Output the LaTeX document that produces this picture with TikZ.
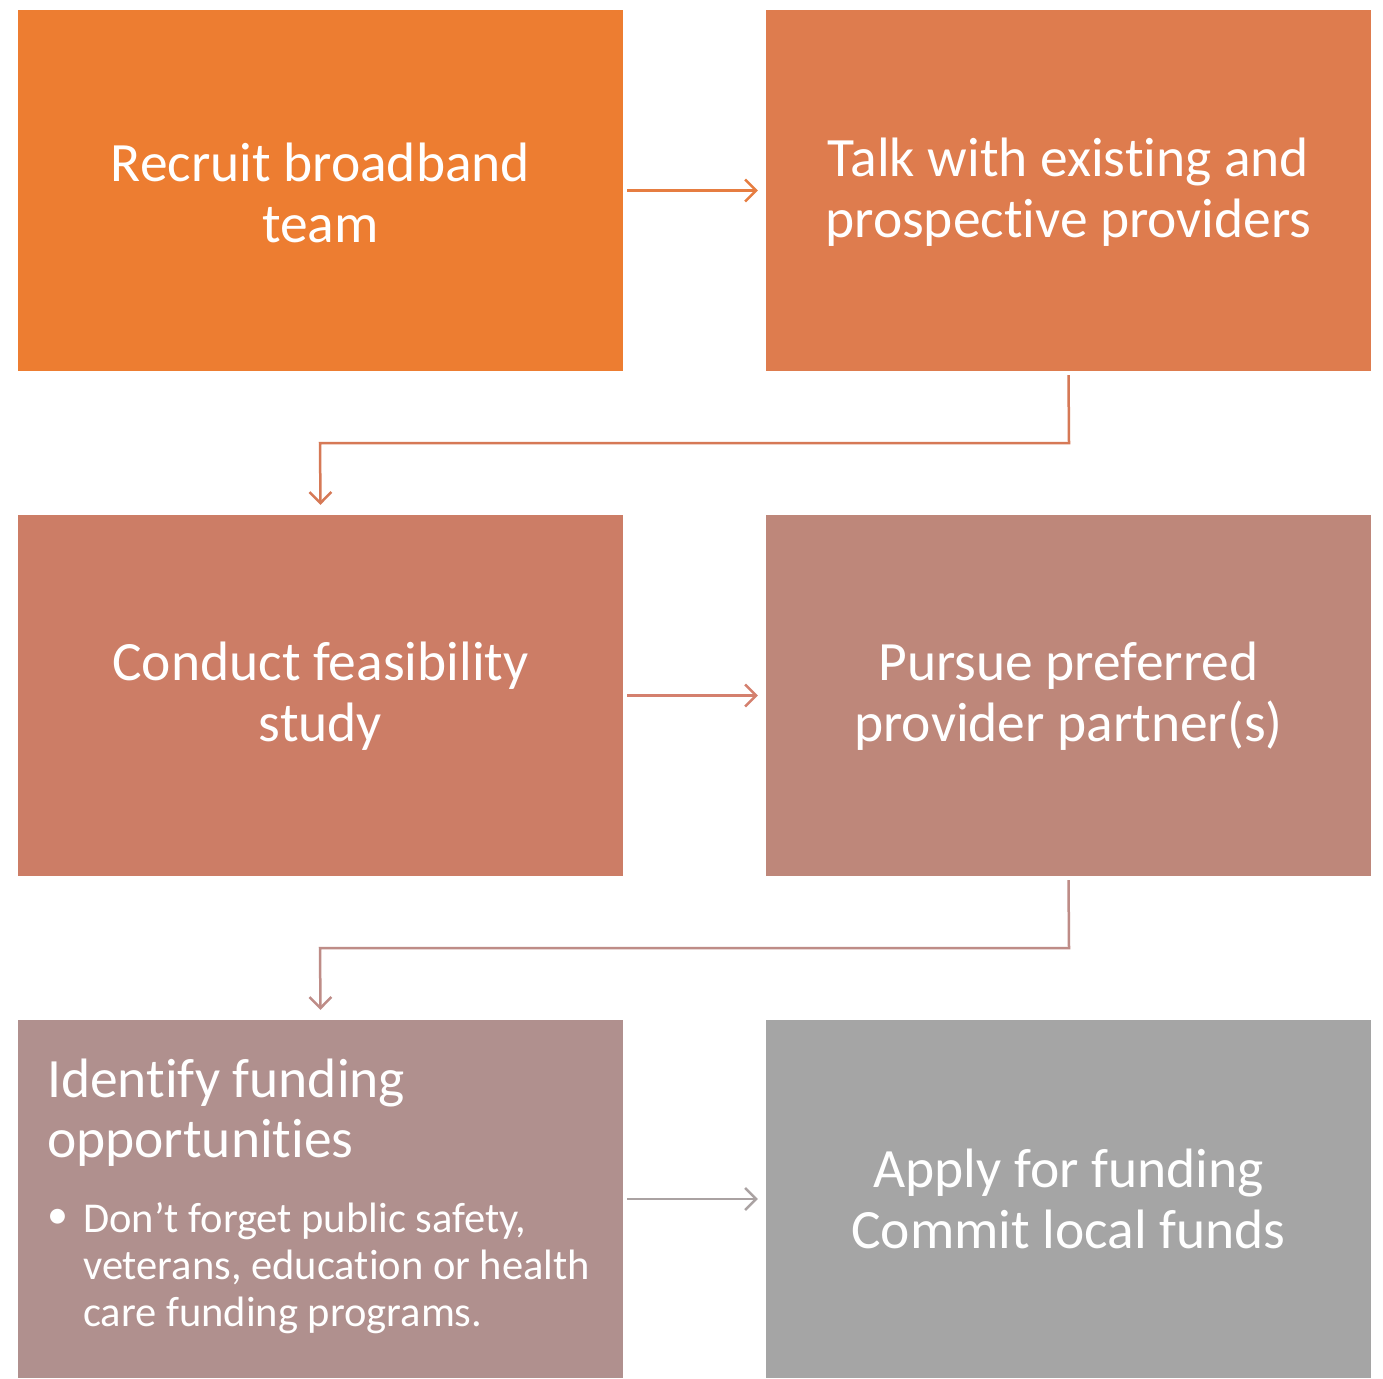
\documentclass[tikz,border=0pt]{standalone}
\usepackage{fontspec}
\setmainfont[Ligatures=NoCommon]{Carlito}
\usetikzlibrary{arrows.meta}
\definecolor{cA}{RGB}{237,125,49}
\definecolor{cB}{RGB}{222,124,78}
\definecolor{cC}{RGB}{204,125,102}
\definecolor{cD}{RGB}{190,135,122}
\definecolor{cE}{RGB}{176,144,142}
\definecolor{cF}{RGB}{165,165,165}
\definecolor{aA}{RGB}{230,125,65}
\definecolor{aB}{RGB}{214,121,86}
\definecolor{aC}{RGB}{212,128,110}
\definecolor{aD}{RGB}{190,140,135}
\definecolor{aE}{RGB}{170,162,162}
\begin{document}
\begin{tikzpicture}[x=1pt,y=-1pt,
  box/.style={draw=none,minimum width=605pt,minimum height=361pt,inner sep=0pt,text=white,
    font=\fontsize{55.5}{61}\selectfont,align=center},
  boxtext/.style={text=white,inner sep=0pt,align=center,font=\fontsize{55.5}{61}\selectfont},
  conn/.style={line width=2.5pt,-{Straight Barb[length=11pt,width=22pt,line width=2.5pt]}}]
\useasboundingbox (0,0) rectangle (1383,1378);
\fill[white] (0,0) rectangle (1383,1378);
\node[box,fill=cA] (b1) at (320.5,190.5) {};
\node[box,fill=cB] (b2) at (1068.5,190.5) {};
\node[box,fill=cC] (b3) at (320.5,695.5) {};
\node[box,fill=cD] (b4) at (1068.5,695.5) {};
\node[box,fill=cE,minimum height=358pt] (b5) at (320.5,1199) {};
\node[box,fill=cF,minimum height=358pt] (b6) at (1068.5,1199) {};
\node[boxtext] (t1) at ([yshift=-2pt]b1.center) {Recruit broadband\\team};
\node[boxtext] (t2) at ([yshift=-2pt]b2.center) {Talk with existing and\\prospective providers};
\node[boxtext] (t3) at ([yshift=-1pt]b3.center) {Conduct feasibility\\study};
\node[boxtext] (t4) at ([yshift=-1pt]b4.center) {Pursue preferred\\provider partner(s)};
\node[boxtext] (t6) at (b6.center) {Apply for funding\\Commit local funds};
\node[anchor=base west,text=white,inner sep=0pt,align=left,font=\fontsize{55.5}{60}\selectfont] (t5) at (47,1157) {Identify funding\\opportunities};
\node[text=white,inner sep=0pt,font=\fontsize{42}{47}\selectfont] (bu) at (58,1219) {•};
\node[anchor=base west,text=white,inner sep=0pt,align=left,font=\fontsize{42.5}{47}\selectfont] (l5) at (83,1326)
 {Don’t forget public safety,\\veterans, education or health\\care funding programs.};
\coordinate (e1) at (1069,443);
\coordinate (f1) at (320,443);
\coordinate (e2) at (1069,948);
\coordinate (f2) at (320,948);
\draw[conn,draw=aA] ([xshift=4pt]b1.east) -- ([xshift=-8pt]b2.west);
\draw[conn,draw=aC] ([xshift=4pt]b3.east) -- ([xshift=-8pt]b4.west);
\draw[conn,draw=aE] ([xshift=4pt]b5.east) -- ([xshift=-8pt]b6.west);
\draw[conn,draw=aB] ([yshift=-4pt]b2.south) -- (e1) -- (f1) -- ([yshift=10pt]b3.north);
\draw[conn,draw=aD] ([yshift=-4pt]b4.south) -- (e2) -- (f2) -- ([yshift=10pt]b5.north);
\end{tikzpicture}
\end{document}
